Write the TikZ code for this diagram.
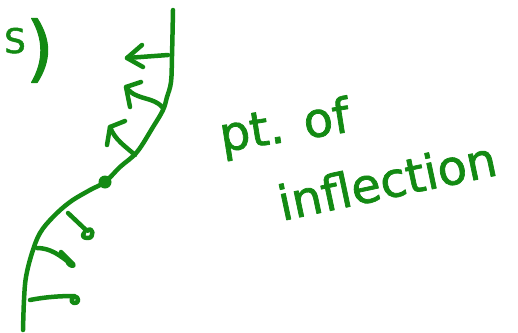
\documentclass[tikz,border=0pt]{standalone}
\usepackage{fontspec}
\usepackage{xcolor}
\usepackage{tikz}
\newfontfamily\handfont[FakeBold=1.5]{DejaVu Sans}
\definecolor{PenGreen}{HTML}{138A13}

\begin{document}
\begin{tikzpicture}[x=1pt,y=-1pt,line cap=round,line join=round]
\tikzset{pen/.style={PenGreen,line width=4.5pt},
  hand/.style={text=PenGreen,inner sep=0pt,font=\handfont\fontsize{48}{48}\selectfont}}
\path[use as bounding box] (0,0) rectangle (518,332);
\node[hand,anchor=base west] (num) at (4,73) {\raisebox{20pt}{\fontsize{34}{34}\selectfont S}\fontsize{72}{72}\selectfont )};
\draw[pen] plot[smooth,tension=0.6] coordinates {(173,10) (172,56) (171,82) (167,97) (163,110) (153,127) (137,152) (120,167) (105,182) (90,190) (70,202) (53,217) (40,233) (32,253) (26,277) (24,300) (23,330)};
\fill[PenGreen] (105,182) circle (6.5);
\draw[pen] (168,55) -- (127,58);
\draw[pen] (142,45) -- (127,58) -- (143,67);
\draw[pen] (163,108) .. controls (157,100) and (145,99) .. (138,96) .. controls (132,94) and (128,90) .. (126,87);
\draw[pen] (141,82) -- (126,87) -- (130,107);
\draw[pen] (135,155) .. controls (125,146) and (115,140) .. (110,127);
\draw[pen] (125,121) -- (110,127) -- (107,145);
\draw[pen] (68,213) -- (87,231) .. controls (93,225) and (95,238) .. (88,238) .. controls (83,238) and (82,236) .. (84,233);
\draw[pen] (37,248) .. controls (50,248) and (60,255) .. (72,265);
\draw[pen] (61,252) -- (73,264) .. controls (75,267) and (70,266) .. (68,263);
\draw[pen] (30,300) .. controls (45,297) and (60,296) .. (74,296) .. controls (80,297) and (79,304) .. (74,303) .. controls (71,302) and (71,299) .. (73,297);
\node[hand,anchor=base west,rotate=9] (ptof) at (222,152) {pt. of};
\node[hand,anchor=base west,rotate=12] (infl) at (282,221) {inflection};
\end{tikzpicture}
\end{document}
